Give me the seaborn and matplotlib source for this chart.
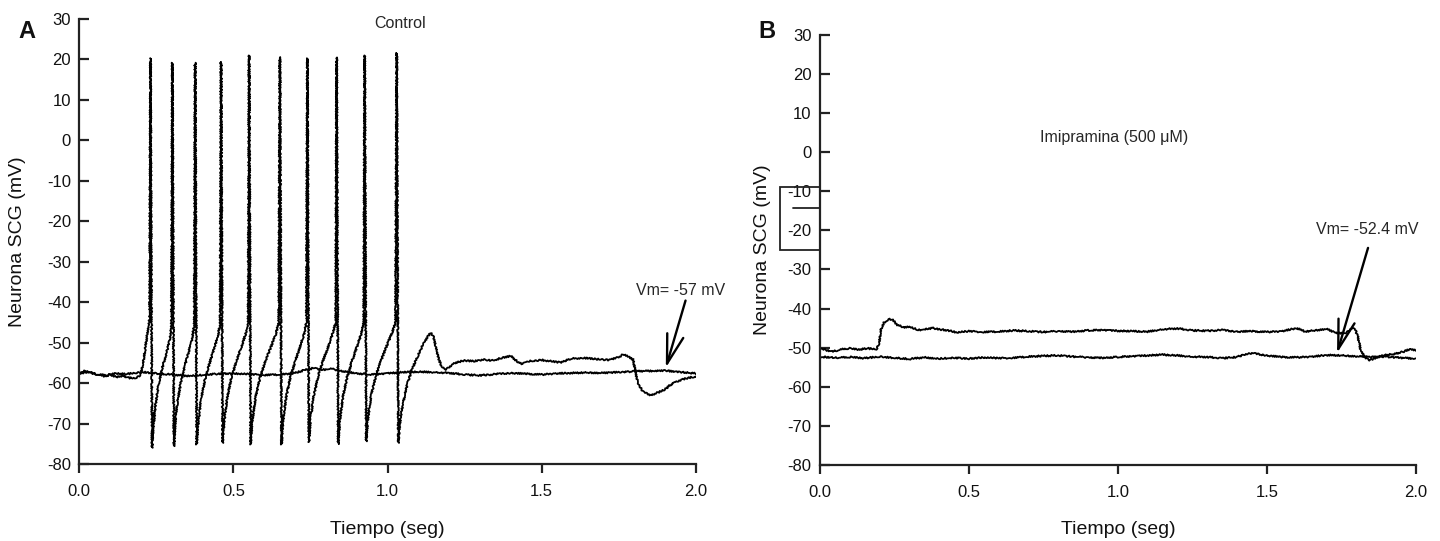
import matplotlib
matplotlib.use("Agg")
import matplotlib.pyplot as plt
import matplotlib.transforms as mtransforms
from matplotlib.patches import Rectangle
from matplotlib.lines import Line2D
import seaborn as sns

sns.set_theme(style="ticks")
plt.rcParams['font.family'] = ['Liberation Sans', 'DejaVu Sans']
plt.rcParams['axes.unicode_minus'] = False

# ======================================
# Data (time in s, voltage in mV)
# ======================================
# Panel A - Control, trace without spikes
t_a1 = [0.00, 0.03, 0.06, 0.09, 0.12, 0.15, 0.18, 0.21, 0.25, 0.30,
        0.35, 0.40, 0.45, 0.50, 0.55, 0.60, 0.65, 0.70, 0.73, 0.76,
        0.79, 0.82, 0.85, 0.90, 0.95, 1.00, 1.05, 1.10, 1.15, 1.20,
        1.25, 1.30, 1.35, 1.40, 1.45, 1.50, 1.55, 1.60, 1.65, 1.70,
        1.75, 1.80, 1.85, 1.90, 1.95, 2.00]
v_a1 = [-57.6, -57.2, -57.9, -58.0, -57.6, -57.8, -57.5, -57.3, -57.6, -57.9,
        -58.2, -58.0, -57.7, -57.6, -57.8, -58.0, -57.9, -57.5, -56.8, -56.3,
        -56.7, -56.5, -57.0, -57.6, -57.9, -57.6, -57.3, -57.2, -57.3, -57.5,
        -57.9, -58.1, -57.8, -57.5, -57.7, -57.9, -57.6, -57.5, -57.4, -57.5,
        -57.3, -57.1, -57.0, -56.9, -57.3, -57.6]

# Panel A - Control, spiking trace (one row per spike cycle)
t_a2 = [0.000, 0.020, 0.040, 0.060, 0.080, 0.100, 0.120, 0.140, 0.160, 0.180, 0.195,
        0.200, 0.207, 0.215, 0.222, 0.228, 0.231, 0.236,
        0.240, 0.248, 0.258, 0.270, 0.283, 0.293, 0.299, 0.302, 0.307,
        0.311, 0.319, 0.330, 0.343, 0.356, 0.366, 0.373, 0.376, 0.381,
        0.386, 0.395, 0.408, 0.423, 0.437, 0.449, 0.457, 0.460, 0.465,
        0.470, 0.480, 0.494, 0.510, 0.526, 0.539, 0.548, 0.551, 0.556,
        0.561, 0.572, 0.587, 0.604, 0.622, 0.637, 0.647, 0.651, 0.656,
        0.661, 0.671, 0.685, 0.701, 0.716, 0.729, 0.737, 0.740, 0.745,
        0.750, 0.761, 0.776, 0.793, 0.810, 0.823, 0.832, 0.835, 0.840,
        0.845, 0.855, 0.869, 0.885, 0.901, 0.914, 0.923, 0.926, 0.931,
        0.936, 0.947, 0.963, 0.981, 0.999, 1.015, 1.026, 1.030, 1.035,
        1.040, 1.050, 1.065, 1.080, 1.100, 1.115, 1.130, 1.140, 1.148, 1.158,
        1.168, 1.178, 1.190, 1.200, 1.220, 1.250, 1.280, 1.310, 1.340, 1.370,
        1.400, 1.420, 1.435, 1.460, 1.500, 1.530, 1.560, 1.600, 1.640, 1.680,
        1.720, 1.750, 1.765, 1.785, 1.797, 1.805, 1.815, 1.830, 1.855, 1.875,
        1.900, 1.920, 1.950, 1.975, 2.000]
v_a2 = [-57.3, -57.0, -57.6, -57.9, -58.3, -58.0, -58.5, -58.2, -58.7, -58.8, -58.3,
        -57.5, -55.0, -51.0, -47.0, -44.0, 20.3, -76.0,
        -71.0, -65.0, -60.0, -56.0, -52.5, -49.5, -46.0, 19.2, -75.6,
        -70.0, -64.5, -59.5, -55.5, -52.0, -49.0, -45.5, 19.2, -75.2,
        -70.0, -64.0, -59.0, -55.0, -51.5, -48.5, -45.5, 19.4, -74.8,
        -69.5, -63.5, -58.5, -54.5, -51.0, -48.0, -45.0, 21.0, -75.2,
        -69.5, -63.5, -58.5, -54.5, -51.0, -48.0, -45.0, 20.6, -75.2,
        -69.5, -63.5, -58.5, -54.5, -51.0, -48.0, -45.0, 20.3, -74.6,
        -69.0, -63.0, -58.0, -54.0, -50.5, -47.5, -45.0, 20.5, -75.1,
        -69.5, -63.5, -58.5, -54.5, -51.0, -48.0, -45.0, 21.0, -74.4,
        -69.0, -63.0, -58.0, -54.0, -50.5, -47.5, -45.0, 21.6, -74.8,
        -70.0, -65.0, -60.0, -56.5, -53.0, -50.5, -48.5, -47.6, -48.3, -51.5,
        -54.5, -56.2, -56.6, -56.0, -55.0, -54.4, -54.6, -54.2, -54.4, -53.8,
        -53.3, -54.6, -55.3, -54.6, -54.3, -54.6, -54.9, -53.9, -53.8, -54.1,
        -54.3, -53.6, -52.9, -53.6, -54.2, -57.5, -60.5, -62.2, -63.0, -62.4,
        -61.6, -60.3, -59.3, -58.7, -58.4]

# Panel B - Imipramina, upper trace
t_b1 = [0.00, 0.02, 0.04, 0.06, 0.08, 0.10, 0.13, 0.16, 0.19, 0.198,
        0.205, 0.215, 0.23, 0.245, 0.26, 0.28, 0.30, 0.33, 0.36, 0.38,
        0.40, 0.43, 0.46, 0.50, 0.55, 0.60, 0.65, 0.70, 0.75, 0.80,
        0.85, 0.90, 0.95, 1.00, 1.05, 1.10, 1.15, 1.20, 1.25, 1.30,
        1.35, 1.40, 1.45, 1.50, 1.55, 1.60, 1.63, 1.67, 1.70, 1.73,
        1.76, 1.785, 1.795, 1.805, 1.815, 1.83, 1.845, 1.86, 1.88, 1.90,
        1.93, 1.96, 1.98, 2.00]
v_b1 = [-50.0, -50.6, -51.0, -50.7, -50.3, -50.2, -50.5, -50.2, -50.4, -49.0,
        -45.2, -43.6, -42.7, -43.0, -44.2, -44.8, -44.6, -45.5, -45.2, -45.0,
        -45.3, -45.6, -46.1, -45.8, -46.0, -45.9, -45.6, -45.8, -46.0, -45.8,
        -45.9, -45.6, -45.5, -45.7, -45.8, -45.9, -45.3, -45.1, -45.6, -45.7,
        -45.5, -45.9, -45.8, -46.0, -45.8, -45.0, -45.9, -45.5, -45.2, -46.2,
        -46.4, -45.2, -45.0, -47.0, -50.5, -52.5, -53.2, -52.8, -52.2, -51.9,
        -51.6, -51.0, -50.4, -50.6]

# Panel B - Imipramina, lower trace
t_b2 = [0.00, 0.05, 0.10, 0.15, 0.20, 0.25, 0.30, 0.35, 0.40, 0.45,
        0.50, 0.55, 0.60, 0.65, 0.70, 0.75, 0.80, 0.85, 0.90, 0.95,
        1.00, 1.05, 1.10, 1.15, 1.20, 1.25, 1.30, 1.35, 1.40, 1.43,
        1.46, 1.50, 1.55, 1.60, 1.65, 1.70, 1.75, 1.80, 1.85, 1.90,
        1.95, 2.00]
v_b2 = [-52.3, -52.6, -52.4, -52.7, -52.3, -52.6, -52.9, -52.5, -52.8, -52.6,
        -52.8, -52.5, -52.7, -52.6, -52.3, -52.1, -52.0, -52.3, -52.5, -52.6,
        -52.4, -52.2, -52.0, -51.8, -52.0, -52.3, -52.4, -52.7, -52.4, -51.6,
        -51.5, -52.0, -52.4, -52.5, -52.3, -51.9, -52.0, -52.2, -52.4, -52.3,
        -52.6, -52.8]

x_ticks = [0.0, 0.5, 1.0, 1.5, 2.0]
y_ticks = [-80, -70, -60, -50, -40, -30, -20, -10, 0, 10, 20, 30]


def trazo(ax, t, v):
    sns.lineplot(x=t, y=v, ax=ax, color="black", linewidth=1.3,
                 estimator=None, sort=False)
    ax.lines[-1].set_sketch_params(scale=0.8, length=2.5, randomness=2)


def flecha(ax, tail, head):
    ax.annotate("", xy=head, xytext=tail,
                arrowprops=dict(arrowstyle="->,head_length=2.1,head_width=0.6",
                                color="black", lw=1.7, shrinkA=0, shrinkB=0,
                                mutation_scale=10))


fig = plt.figure(figsize=(14.4, 5.41), dpi=100)
ax_a = fig.add_axes([0.05507, 0.14233, 0.42806, 0.82255])
ax_b = fig.add_axes([0.56944, 0.14048, 0.41368, 0.79538])

trazo(ax_a, t_a1, v_a1)
trazo(ax_a, t_a2, v_a2)
trazo(ax_b, t_b1, v_b1)
trazo(ax_b, t_b2, v_b2)

for ax in (ax_a, ax_b):
    ax.set_xlim(0, 2)
    ax.set_ylim(-80, 30)
    ax.set_xticks(x_ticks)
    ax.set_xticklabels([f"{x:.1f}" for x in x_ticks])
    ax.set_yticks(y_ticks)
    sns.despine(ax=ax)
    for s in ("left", "bottom"):
        ax.spines[s].set_linewidth(1.6)
        ax.spines[s].set_color("#222222")
    ax.tick_params(axis="y", direction="in", length=7, width=1.6, pad=6,
                   labelsize=12, color="#222222", labelcolor="#111111")
    ax.tick_params(axis="x", direction="out", length=6.5, width=1.6, pad=8,
                   labelsize=12, color="#222222", labelcolor="#111111")
    ax.set_xlabel("Tiempo (seg)", fontsize=14, color="#111111")
    ax.set_ylabel("Neurona SCG (mV)", fontsize=14, color="#111111")
    ax.grid(False)

ax_a.yaxis.set_label_coords(-0.087, 0.5)
ax_b.yaxis.set_label_coords(-0.083, 0.5)
ax_a.xaxis.set_label_coords(0.5, -0.128)
ax_b.xaxis.set_label_coords(0.5, -0.13)

# Labels and annotations
ax_a.text(1.04, 29.0, "Control", ha="center", va="center", fontsize=11.5)
ax_a.text(1.95, -37.1, "Vm= -57 mV", ha="center", va="center", fontsize=11.5)
flecha(ax_a, (1.967, -39.6), (1.903, -56.2))

ax_b.text(0.988, 3.6, "Imipramina (500 \u03bcM)", ha="center", va="center", fontsize=11.5)
ax_b.text(1.836, -19.7, "Vm= -52.4 mV", ha="center", va="center", fontsize=11.5)
flecha(ax_b, (1.840, -24.5), (1.736, -51.4))

# Stray box next to the y axis of panel B
trans = mtransforms.blended_transform_factory(ax_b.transAxes, ax_b.transData)
ax_b.add_patch(Rectangle((-0.0672, -25.05), 0.0672, 16.18, fill=False,
                         edgecolor="#222222", lw=1.3, transform=trans, clip_on=False))
ax_b.add_artist(Line2D([-0.045, 0.0], [-14.3, -14.3], color="#222222", lw=1.3,
                       transform=trans, clip_on=False))

fig.text(27 / 1440, 1 - 32 / 541, "A", ha="center", va="center",
         fontsize=17, fontweight="bold", color="#111111")
fig.text(767 / 1440, 1 - 32 / 541, "B", ha="center", va="center",
         fontsize=17, fontweight="bold", color="#111111")

fig.savefig("out.png", dpi=100)
